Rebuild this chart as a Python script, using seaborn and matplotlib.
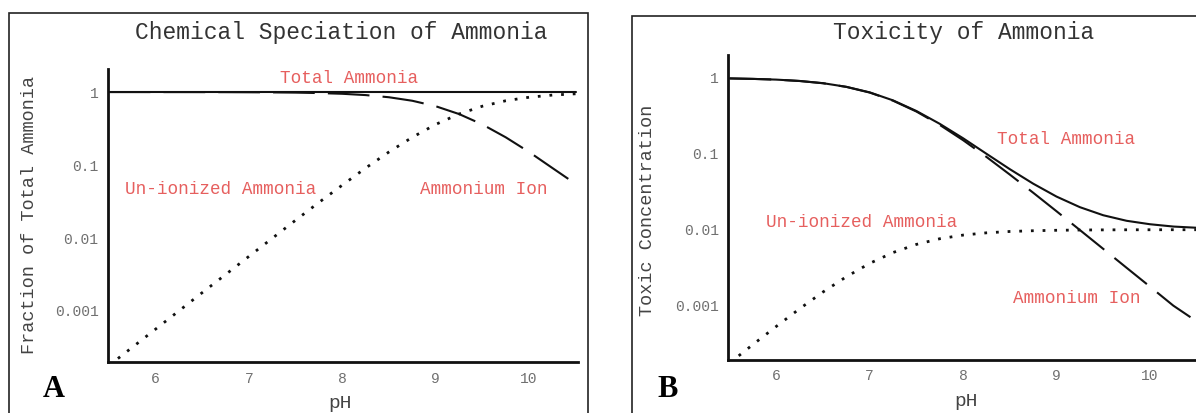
import matplotlib
matplotlib.use("Agg")
import matplotlib.pyplot as plt
from matplotlib.patches import Rectangle
from matplotlib.ticker import NullLocator
import seaborn as sns

# ---------------- data ----------------
ph = [5.5, 5.75, 6.0, 6.25, 6.5, 6.75, 7.0, 7.25, 7.5, 7.75, 8.0,
      8.25, 8.5, 8.75, 9.0, 9.25, 9.5, 9.75, 10.0, 10.25, 10.5]

# Panel A: fraction of total ammonia
spec_total = [1.0, 1.0, 1.0, 1.0, 1.0, 1.0, 1.0, 1.0, 1.0, 1.0, 1.0,
              1.0, 1.0, 1.0, 1.0, 1.0, 1.0, 1.0, 1.0, 1.0, 1.0]
spec_ammonium = [1.0, 1.0, 0.999, 0.999, 0.998, 0.997, 0.994, 0.990, 0.983, 0.969, 0.947,
                 0.909, 0.849, 0.760, 0.640, 0.500, 0.360, 0.240, 0.151, 0.091, 0.055]
spec_unionized = [0.000178, 0.000316, 0.000562, 0.001, 0.00178, 0.00315, 0.00559, 0.0099,
                  0.0175, 0.0307, 0.053, 0.0909, 0.151, 0.240, 0.360, 0.500, 0.640,
                  0.760, 0.849, 0.909, 0.947]

# Panel B: toxic concentration
tox_total = [0.983, 0.969, 0.948, 0.910, 0.851, 0.762, 0.644, 0.505, 0.366, 0.248, 0.160,
             0.100, 0.0627, 0.0404, 0.0273, 0.0198, 0.0155, 0.0131, 0.0118, 0.0110, 0.0106]
tox_ammonium = [0.983, 0.969, 0.947, 0.909, 0.849, 0.760, 0.640, 0.500, 0.360, 0.240, 0.151,
                0.0909, 0.0532, 0.0307, 0.0175, 0.0099, 0.00559, 0.00315, 0.00178, 0.001, 0.00062]
tox_unionized = [0.000175, 0.000307, 0.000532, 0.000909, 0.00151, 0.0024, 0.0036, 0.005,
                 0.0064, 0.0076, 0.00849, 0.00909, 0.00947, 0.00969, 0.00982, 0.0099,
                 0.00994, 0.00997, 0.00998, 0.00999, 0.00999]

x_ticks = [6, 7, 8, 9, 10]
x_tick_labels = ["6", "7", "8", "9", "10"]
y_ticks = [1, 0.1, 0.01, 0.001]
y_tick_labels = ["1", "0.1", "0.01", "0.001"]

titles = ["Chemical Speciation of Ammonia", "Toxicity of Ammonia"]
ylabels = ["Fraction of Total Ammonia", "Toxic Concentration"]
xlabel = "pH"
panel_letters = ["A", "B"]
series_names = ["Total Ammonia", "Un-ionized Ammonia", "Ammonium Ion"]

# ---------------- style ----------------
sns.set_style("white")
plt.rcParams["font.family"] = ["Liberation Mono", "DejaVu Sans Mono"]

W, H = 1196, 413
fig = plt.figure(figsize=(W / 100, H / 100), dpi=100)

RED = "#e65f5e"
INK = "#111111"

def px_box(x0, y0, x1, y1):
    return [x0 / W, 1 - y1 / H, (x1 - x0) / W, (y1 - y0) / H]

axA = fig.add_axes(px_box(107.5, 69, 578, 362))
axB = fig.add_axes(px_box(727.7, 55, 1198.5, 359.5))

solid_kw = dict(color=INK, linewidth=1.5, linestyle="-")
dash_kw = dict(color=INK, linewidth=1.5, linestyle=(0, (20, 6.3)))
dot_kw = dict(color=INK, linewidth=2.0, linestyle=(0, (1, 3.2)))

sns.lineplot(x=ph, y=spec_total, ax=axA, **solid_kw)
sns.lineplot(x=ph, y=spec_ammonium, ax=axA, **dash_kw)
sns.lineplot(x=ph, y=spec_unionized, ax=axA, **dot_kw)

sns.lineplot(x=ph, y=tox_total, ax=axB, **solid_kw)
sns.lineplot(x=ph, y=tox_ammonium, ax=axB, **dash_kw)
sns.lineplot(x=ph, y=tox_unionized, ax=axB, **dot_kw)

limits = {axA: ((5.487, 10.524), (0.0002, 2.07)),
          axB: ((5.48, 10.52), (0.000195, 2.0))}

for i, ax in enumerate([axA, axB]):
    (xl, yl) = limits[ax]
    ax.set_yscale("log")
    ax.set_xlim(*xl)
    ax.set_ylim(*yl)
    ax.set_xticks(x_ticks)
    ax.set_xticklabels(x_tick_labels)
    ax.set_yticks(y_ticks)
    ax.set_yticklabels(y_tick_labels)
    ax.yaxis.set_minor_locator(NullLocator())
    ax.xaxis.set_minor_locator(NullLocator())
    for s in ["top", "right"]:
        ax.spines[s].set_visible(False)
    for s in ["left", "bottom"]:
        ax.spines[s].set_color(INK)
        ax.spines[s].set_linewidth(2.0)
    ax.tick_params(axis="both", direction="in", length=6.5, width=2.0,
                   color=INK, labelsize=10.5, labelcolor="#707070")
    ax.tick_params(axis="x", pad=7)
    ax.tick_params(axis="y", pad=6.5)
    ax.set_facecolor("none")
    ax.grid(False)
    ax.set_xlabel(xlabel, fontsize=14, color="#444444")
    ax.set_ylabel(ylabels[i], fontsize=13.3, color="#444444")
    ax.xaxis.label.set_va("center")
    ax.yaxis.label.set_va("center")

# label positions (axes coords)
axA.xaxis.set_label_coords((340 - 107.5) / 470.5, (362 - 403) / 293)
axA.yaxis.set_label_coords((30 - 107.5) / 470.5, (362 - 215) / 293)
axB.xaxis.set_label_coords((966 - 727.7) / 470.8, (359.5 - 402) / 304.5)
axB.yaxis.set_label_coords((648 - 727.7) / 470.8, (359.5 - 210) / 304.5)

# series annotations
lab_kw = dict(color=RED, fontsize=12.7, ha="center", va="center")
axA.text(8.07, 1.51, series_names[0], **lab_kw)
axA.text(6.70, 0.0455, series_names[1], **lab_kw)
axA.text(9.52, 0.0455, series_names[2], **lab_kw)
axB.text(9.10, 0.154, series_names[0], **lab_kw)
axB.text(6.91, 0.0125, series_names[1], **lab_kw)
axB.text(9.22, 0.00125, series_names[2], **lab_kw)

# titles
fig.text(341 / W, 1 - 32 / H, titles[0], fontsize=16.5, color="#333333",
         ha="center", va="center")
fig.text(964 / W, 1 - 32 / H, titles[1], fontsize=16.5, color="#333333",
         ha="center", va="center")

# panel letters
fig.text(43 / W, 1 - 397 / H, panel_letters[0], fontsize=22, fontweight="bold",
         family="Liberation Serif", color="#000000", ha="left", va="baseline")
fig.text(657 / W, 1 - 397 / H, panel_letters[1], fontsize=22, fontweight="bold",
         family="Liberation Serif", color="#000000", ha="left", va="baseline")

# frames around each panel
fig.patches.append(Rectangle((9 / W, -0.05), (588 - 9) / W, 1.05 - 12.7 / H,
                             transform=fig.transFigure, fill=False,
                             edgecolor="#222222", linewidth=1.2))
fig.patches.append(Rectangle((631.7 / W, -0.05), 0.5, 1.05 - 16.3 / H,
                             transform=fig.transFigure, fill=False,
                             edgecolor="#222222", linewidth=1.2))

fig.savefig("out.png", dpi=100)
